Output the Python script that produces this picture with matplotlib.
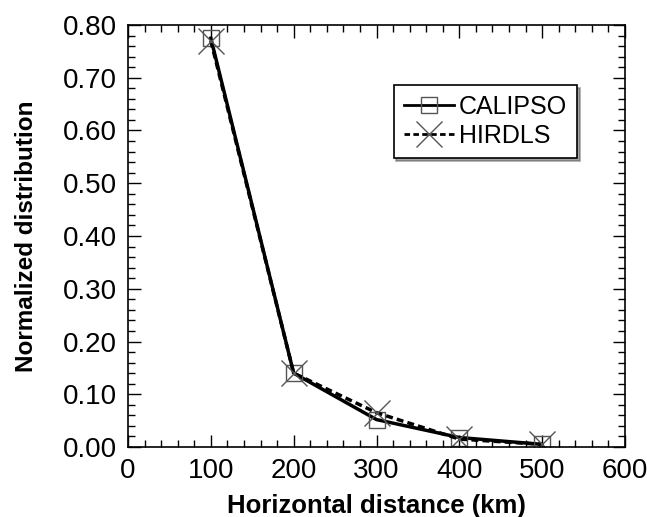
import matplotlib
matplotlib.use('Agg')
import matplotlib.pyplot as plt
from matplotlib.ticker import MultipleLocator, FormatStrFormatter

plt.rcParams['font.family'] = ['Liberation Sans', 'DejaVu Sans']

distance = [100, 200, 300, 400, 500]
calipso = [0.775, 0.140, 0.052, 0.018, 0.005]
hirdls = [0.770, 0.140, 0.065, 0.015, 0.005]

fig = plt.figure(figsize=(6.47, 5.17), dpi=100)
ax = fig.add_axes([128 / 647, 70 / 517, 497 / 647, 422 / 517])

ax.plot(distance, calipso, color='k', lw=2.5, ls='-', marker='s', ms=12,
        mfc='none', mec='#555555', mew=1, label='CALIPSO')
ax.plot(distance, hirdls, color='k', lw=2.5, ls=(0, (2, 1.2)), marker='x', ms=19,
        mec='#555555', mew=1, label='HIRDLS')

ax.set_xlim(0, 600)
ax.set_ylim(0, 0.80)
ax.xaxis.set_major_locator(MultipleLocator(100))
ax.xaxis.set_minor_locator(MultipleLocator(20))
ax.yaxis.set_major_locator(MultipleLocator(0.1))
ax.yaxis.set_minor_locator(MultipleLocator(0.02))
ax.yaxis.set_major_formatter(FormatStrFormatter('%.2f'))
ax.tick_params(which='both', direction='in', top=True, right=True, width=1)
ax.tick_params(which='major', length=9, labelsize=20, pad=8)
ax.tick_params(which='minor', length=5)
for s in ax.spines.values():
    s.set_linewidth(1.2)

ax.set_xlabel('Horizontal distance (km)', fontsize=18.5, fontweight='bold', labelpad=7)
ax.set_ylabel('Normalized distribution', fontsize=17.5, fontweight='bold', labelpad=18)

leg = ax.legend(loc='upper right', bbox_to_anchor=(0.903, 0.858), fontsize=18,
                frameon=True, fancybox=False, shadow=True, handlelength=2.0,
                handletextpad=0.2, borderpad=0.4, labelspacing=0.2,
                borderaxespad=0)
leg.get_frame().set_edgecolor('k')
leg.get_frame().set_linewidth(1.2)
for line in leg.get_lines():
    line.set_linewidth(2)

fig.savefig('out.png', dpi=100)
